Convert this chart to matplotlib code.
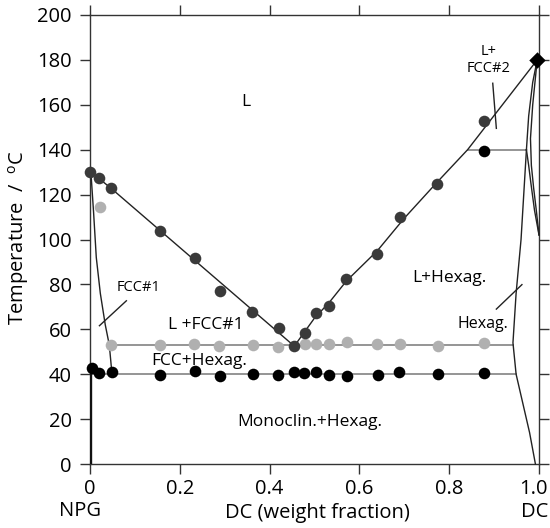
import matplotlib
matplotlib.use("Agg")
import matplotlib.pyplot as plt
from matplotlib.transforms import ScaledTranslation

plt.rcParams['font.family'] = ['Open Sans', 'DejaVu Sans']
plt.rcParams['mathtext.fontset'] = 'custom'
plt.rcParams['mathtext.rm'] = 'Open Sans'

# Liquidus points (dark grey)
liq_x = [0.0, 0.021, 0.047, 0.155, 0.233, 0.290, 0.361, 0.422, 0.455,
         0.478, 0.504, 0.533, 0.571, 0.639, 0.691, 0.773, 0.877]
liq_t = [130.2, 127.3, 122.8, 103.8, 91.6, 77.2, 67.7, 60.7, 52.5,
         58.5, 67.4, 70.5, 82.4, 93.5, 109.9, 124.6, 152.9]

# Eutectic / solvus points (light grey)
grey_x = [0.023, 0.047, 0.155, 0.231, 0.288, 0.363, 0.418, 0.478, 0.504,
          0.533, 0.573, 0.639, 0.691, 0.775, 0.877]
grey_t = [114.6, 53.0, 53.0, 53.5, 52.7, 53.1, 52.3, 53.5, 53.5,
          53.5, 54.2, 53.5, 53.5, 52.7, 53.9]

# Solid-solid transition points (black)
blk_x = [0.005, 0.021, 0.049, 0.157, 0.233, 0.290, 0.362, 0.418, 0.455,
         0.477, 0.504, 0.533, 0.573, 0.641, 0.689, 0.775, 0.877, 0.877]
blk_t = [42.6, 40.4, 40.8, 39.6, 41.3, 39.3, 40.1, 39.8, 40.8,
         40.4, 40.8, 39.6, 39.3, 39.8, 41.0, 40.0, 40.4, 139.6]

# Melting point of pure DC
dc_melt_x = [0.996]
dc_melt_t = [180.0]

# Phase boundaries
liq_left_x = [0.0, 0.021, 0.047, 0.455]
liq_left_t = [130.5, 127.0, 122.8, 52.5]
liq_right_x = [0.455, 0.50, 0.533, 0.571, 0.64, 0.70, 0.773, 0.841, 0.996]
liq_right_t = [52.5, 65.0, 72.0, 81.5, 95.0, 109.5, 125.5, 140.0, 180.0]
fcc1_x = [0.002, 0.008, 0.014, 0.023, 0.034, 0.043, 0.049]
fcc1_t = [130.0, 112.0, 92.0, 76.0, 62.0, 53.0, 40.0]
npg_edge_x = [0.002, 0.002]
npg_edge_t = [42.0, 0.0]
solA_x = [0.996, 0.986, 0.977, 0.972]
solA_t = [180.0, 170.0, 155.0, 140.0]
solB_x = [0.996, 0.986, 0.981, 0.983, 0.988, 0.994, 1.0]
solB_t = [180.0, 160.0, 145.0, 133.0, 123.0, 113.0, 102.0]
solC_x = [0.972, 0.977, 0.982, 0.990, 1.0]
solC_t = [140.0, 133.0, 125.0, 113.0, 102.0]
hex_x = [0.972, 0.966, 0.960, 0.949, 0.942, 0.949, 0.964, 0.979, 0.992]
hex_t = [140.0, 120.0, 100.0, 76.0, 54.0, 40.0, 27.0, 14.0, 0.0]
iso_53 = (0.045, 0.942, 53.0)
iso_40 = (0.0, 0.949, 40.0)
iso_140 = (0.841, 0.972, 140.0)

fig = plt.figure(figsize=(5.5, 5.28), dpi=100)
ax = fig.add_axes([90 / 550, 64 / 528, 449 / 550, 449 / 528])

line_grey = '#8c8c8c'
edge = '#222222'

for x0, x1, t in (iso_53, iso_40, iso_140):
    ax.plot([x0, x1], [t, t], color=line_grey, lw=1.3, zorder=2)

for xs, ts in ((liq_left_x, liq_left_t), (liq_right_x, liq_right_t),
               (fcc1_x, fcc1_t), (solA_x, solA_t), (solB_x, solB_t),
               (solC_x, solC_t), (hex_x, hex_t)):
    ax.plot(xs, ts, color='#222222', lw=1.0, zorder=3, clip_on=False)
ax.plot(npg_edge_x, npg_edge_t, color='#111111', lw=1.7, zorder=3)

ax.scatter(grey_x, grey_t, s=70, color='#b0b0b0', zorder=4, linewidths=0, clip_on=False)
ax.scatter(liq_x, liq_t, s=70, color='#3a3a3a', zorder=5, linewidths=0, clip_on=False)
ax.scatter(blk_x, blk_t, s=70, color='#000000', zorder=5, linewidths=0, clip_on=False)
ax.scatter(dc_melt_x, dc_melt_t, s=70, marker='D', color='#000000', zorder=6,
           linewidths=0, clip_on=False)

# Leader lines
ax.plot([0.081, 0.021], [72.7, 61.6], color=edge, lw=1.0, zorder=3)
ax.plot([0.897, 0.905], [169.6, 149.5], color=edge, lw=1.0, zorder=3)
ax.plot([0.905, 0.962], [69.0, 79.9], color=edge, lw=1.0, zorder=3)

# Region labels
fs = 12.5
ax.text(0.348, 161.4, 'L', fontsize=fs, ha='center', va='center')
ax.text(0.888, 180.0, 'L+\nFCC#2', fontsize=10.5, ha='center', va='center',
        linespacing=1.15)
ax.text(0.108, 78.8, 'FCC#1', fontsize=10.5, ha='center', va='center')
ax.text(0.259, 62.0, 'L +FCC#1', fontsize=fs, ha='center', va='center')
ax.text(0.244, 46.0, 'FCC+Hexag.', fontsize=fs, ha='center', va='center')
ax.text(0.489, 18.7, 'Monoclin.+Hexag.', fontsize=fs, ha='center', va='center')
ax.text(0.80, 82.9, 'L+Hexag.', fontsize=fs, ha='center', va='center')
ax.text(0.875, 62.4, 'Hexag.', fontsize=11.5, ha='center', va='center')

ax.set_xlim(0, 1)
ax.set_ylim(0, 200)
ax.set_xticks([0, 0.2, 0.4, 0.6, 0.8, 1.0])
ax.set_xticklabels(['0', '0.2', '0.4', '0.6', '0.8', '1.0'])
ax.set_yticks(range(0, 201, 20))
ax.tick_params(axis='both', direction='out', length=7, width=1.0, color='#333333',
               labelsize=14.5, top=True, right=True)
ax.tick_params(axis='x', pad=3.5)
ax.tick_params(axis='y', pad=6)
for s in ax.spines.values():
    s.set_linewidth(1.0)
    s.set_color('#333333')

last = ax.get_xticklabels()[-1]
last.set_transform(last.get_transform() + ScaledTranslation(-4 / 72, 0, fig.dpi_scale_trans))

fig.text(19 / 550, 1 - 238 / 528, r'Temperature  /  $^{\rm o}$C', fontsize=14.5,
         rotation=90, ha='center', va='center')
fig.text(80 / 550, 1 - 511 / 528, 'NPG', fontsize=14.5, ha='center', va='center')
fig.text(317 / 550, 1 - 513 / 528, 'DC (weight fraction)', fontsize=14.5,
         ha='center', va='center')
fig.text(535 / 550, 1 - 512 / 528, 'DC', fontsize=14.5, ha='center', va='center')

fig.savefig('out.png', dpi=100)
